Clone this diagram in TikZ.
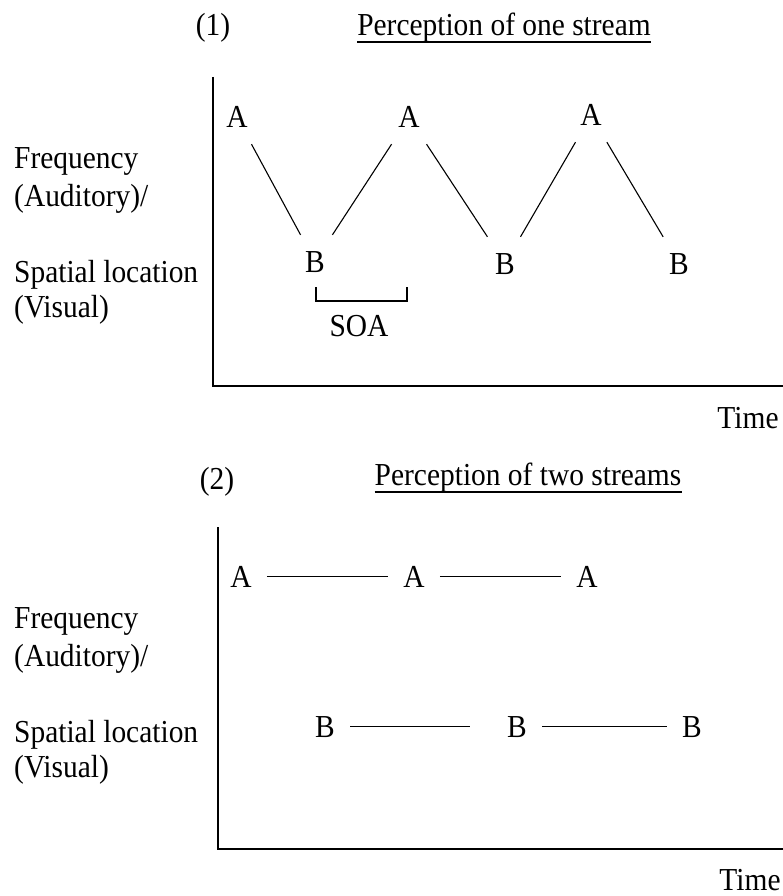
\documentclass[tikz,border=0pt]{standalone}
\usepackage{fontspec}
\setmainfont{Liberation Serif}[FakeStretch=0.92]
\usetikzlibrary{positioning}

\begin{document}
\begin{tikzpicture}[
  x=1pt, y=-1pt,
  font=\fontsize{32}{38}\selectfont,
  lbl/.style={anchor=base west, inner sep=0pt},
  ttl/.style={anchor=base, inner sep=0pt},
  ev/.style={anchor=base, inner xsep=15pt, inner ysep=16pt},
  ax/.style={line width=1.8pt},
  ln/.style={line width=1.1pt}
]
  \useasboundingbox (0,0) rectangle (783,896);

  % (1) one stream
  \node[ttl] (n1) at (213,36) {(1)};
  \node[ttl] (t1) at (504,36) {Perception of one stream};
  \draw[ln] ([yshift=-6pt]t1.base west) -- ([yshift=-6pt]t1.base east);
  \node[lbl] (f1) at (14,168) {Frequency};
  \node[lbl] (au1) at (14,206) {(Auditory)/};
  \node[lbl] (sp1) at (14,282) {Spatial location};
  \node[lbl] (vi1) at (14,317) {(Visual)};
  \coordinate (y1) at (213,77);
  \coordinate (o1) at (213,386);
  \coordinate (x1) at (783,386);
  \draw[ax] (y1) -- (o1) -- (x1);
  \node[ttl] (time1) at (748,428) {Time};
  \node[ev] (a1) at (237,128) {A};
  \node[ev] (a2) at (409,128) {A};
  \node[ev] (a3) at (591,126) {A};
  \node[ev] (b1) at (315,272) {B};
  \node[ev] (b2) at (505,274) {B};
  \node[ev] (b3) at (679,274) {B};
  \draw[ln] (a1) -- (b1) -- (a2) -- (b2) -- (a3) -- (b3);
  \coordinate (soaL) at (316,287);
  \coordinate (soaR) at (407,287);
  \draw[ln] (soaL) -- ++(0,14) -| (soaR);
  \node[ttl] (soa) at (359,336) {SOA};

  % (2) two streams
  \node[ttl] (n2) at (217,489) {(2)};
  \node[ttl] (t2) at (528,485) {Perception of two streams};
  \draw[ln] ([yshift=-7pt]t2.base west) -- ([yshift=-7pt]t2.base east);
  \node[lbl] (f2) at (14,628) {Frequency};
  \node[lbl] (au2) at (14,666) {(Auditory)/};
  \node[lbl] (sp2) at (14,742) {Spatial location};
  \node[lbl] (vi2) at (14,777) {(Visual)};
  \coordinate (y2) at (218,527);
  \coordinate (o2) at (218,849);
  \coordinate (x2) at (783,849);
  \draw[ax] (y2) -- (o2) -- (x2);
  \node[ttl] (time2) at (750,890) {Time};
  \node[ev] (c1) at (241,587) {A};
  \node[ev] (c2) at (414,587) {A};
  \node[ev] (c3) at (587,587) {A};
  \node[ev] (d1) at (325,737) {B};
  \node[ev] (d2) at (517,737) {B};
  \node[ev] (d3) at (692,737) {B};
  \draw[ln] (c1) -- (c2);
  \draw[ln] (c2) -- (c3);
  \draw[ln, shorten >=22pt] (d1) -- (d2);
  \draw[ln] (d2) -- (d3);
\end{tikzpicture}
\end{document}
